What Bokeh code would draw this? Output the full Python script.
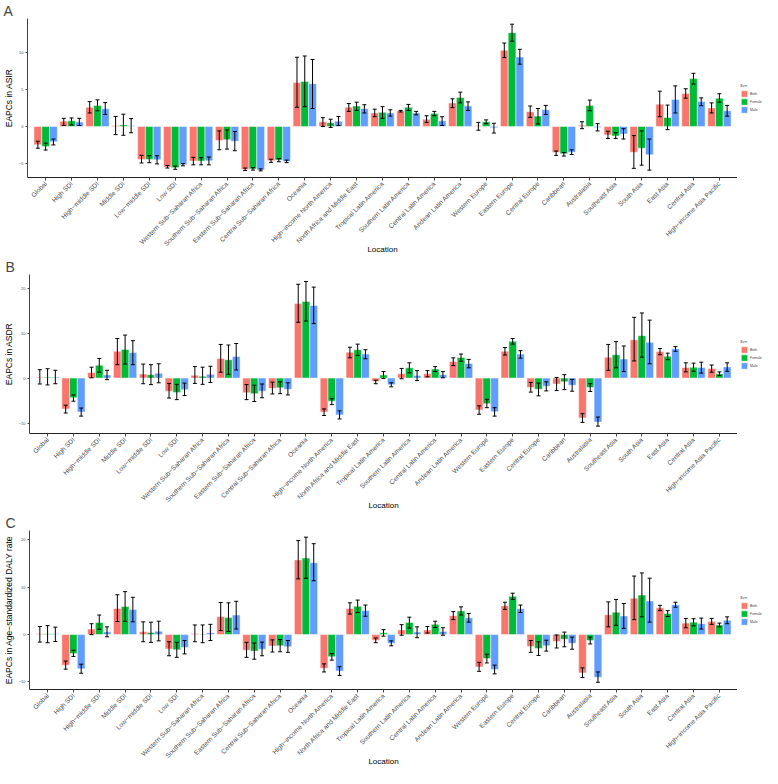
from math import pi
from bokeh.plotting import figure
from bokeh.models import (ColumnDataSource, FactorRange, Range1d, FixedTicker, Whisker, TeeHead,
                          Legend, LegendItem)
from bokeh.transform import dodge
from bokeh.layouts import column, row
from bokeh.embed import file_html
from bokeh.resources import INLINE

locations = ["Global", "High SDI", "High\u2212middle SDI", "Middle SDI", "Low\u2212middle SDI", "Low SDI",
             "Western Sub\u2212Saharan Africa", "Southern Sub\u2212Saharan Africa", "Eastern Sub\u2212Saharan Africa",
             "Central Sub\u2212Saharan Africa", "Oceania", "High\u2212income North America",
             "North Africa and Middle East", "Tropical Latin America", "Southern Latin America",
             "Central Latin America", "Andean Latin America", "Western Europe", "Eastern Europe",
             "Central Europe", "Caribbean", "Australasia", "Southeast Asia", "South Asia", "East Asia",
             "Central Asia", "High\u2212income Asia Pacific"]
sexes = ["Both", "Female", "Male"]
sex_colors = ["#F8766D", "#00BA38", "#619CFF"]

# ---- Panel A: EAPCs in ASIR ----
asir_both = [-2.47, 0.72, 2.60, 0.13, -4.47, -5.49, -4.68, -1.91, -5.83, -4.64, 5.96, 0.64, 2.60, 1.83, 2.09, 0.98, 3.19, 0.09, 10.30, 2.00, -3.53, 0.17, -1.15, -3.49, 3.02, 4.47, 2.51]
asir_both_lo = [-2.94, 0.13, 1.83, -1.10, -4.94, -5.62, -5.19, -3.15, -5.96, -4.85, 2.60, 0.00, 2.04, 1.32, 1.96, 0.55, 2.55, -0.51, 9.32, 1.23, -3.91, -0.30, -1.62, -5.66, 1.32, 3.83, 1.83]
asir_both_hi = [-2.00, 1.10, 3.36, 1.36, -3.90, -5.28, -4.17, -0.60, -5.62, -4.43, 9.36, 1.19, 3.10, 2.34, 2.17, 1.45, 3.74, 0.55, 11.28, 2.77, -3.32, 0.64, -0.64, -1.23, 4.77, 5.10, 3.19]
asir_female = [-2.72, 0.77, 2.85, 0.21, -4.47, -5.57, -4.68, -1.79, -5.74, -4.55, 6.09, 0.51, 2.77, 1.91, 2.60, 1.74, 3.91, 0.64, 12.68, 1.40, -3.70, 2.85, -1.28, -2.94, 1.23, 6.47, 3.83]
asir_female_lo = [-3.19, 0.20, 2.13, -1.19, -4.90, -5.79, -5.19, -3.06, -5.90, -4.77, 2.68, -0.13, 2.17, 1.10, 2.17, 1.45, 3.19, 0.38, 11.53, 0.34, -4.00, 2.13, -1.62, -5.23, -0.43, 5.74, 3.28]
asir_female_hi = [-2.26, 1.15, 3.60, 1.66, -3.96, -5.36, -4.21, -0.47, -5.57, -4.34, 9.53, 0.98, 3.28, 2.68, 2.98, 2.04, 4.64, 0.89, 13.83, 2.43, -3.53, 3.57, -0.85, -0.60, 2.89, 7.19, 4.43]
asir_male = [-2.08, 0.60, 2.38, 0.09, -4.51, -5.19, -4.64, -2.00, -5.87, -4.72, 5.79, 0.72, 2.43, 1.83, 1.83, 0.77, 2.77, -0.17, 9.40, 2.26, -3.49, -0.13, -1.02, -3.83, 3.66, 3.36, 2.13]
asir_male_lo = [-2.50, 0.13, 1.62, -0.85, -5.06, -5.32, -5.19, -3.28, -6.00, -4.89, 2.43, 0.13, 1.83, 1.40, 1.57, 0.13, 2.17, -0.89, 8.43, 1.62, -3.79, -0.60, -1.70, -5.91, 1.83, 2.81, 1.40]
asir_male_hi = [-1.70, 1.10, 3.23, 1.06, -3.96, -5.02, -4.13, -0.68, -5.74, -4.55, 9.06, 1.36, 2.94, 2.26, 2.04, 1.32, 3.32, 0.43, 10.43, 2.85, -3.15, 0.38, -0.30, -1.70, 5.49, 3.87, 2.85]

# ---- Panel B: EAPCs in ASDR ----
asdr_both = [0.20, -6.85, 1.25, 5.95, 0.90, -2.91, 0.62, 4.36, -3.25, -2.28, 16.54, -7.54, 5.74, -0.69, 0.97, 0.97, 3.67, -7.06, 5.95, -2.08, -1.31, -8.86, 4.64, 8.51, 5.88, 2.35, 2.15]
asdr_both_lo = [-1.31, -7.75, 0.07, 2.98, -1.25, -4.43, -1.18, 1.31, -4.78, -3.53, 12.39, -8.30, 4.50, -1.25, -0.14, 0.28, 2.77, -8.03, 5.12, -3.11, -2.77, -9.83, 1.73, 3.81, 5.19, 1.38, 1.31]
asdr_both_hi = [1.87, -6.02, 2.42, 8.79, 3.11, -1.18, 2.56, 7.47, -1.45, -0.90, 20.83, -6.85, 6.85, -0.48, 2.15, 1.66, 4.50, -6.16, 6.78, -0.97, 0.14, -7.89, 7.47, 13.49, 6.57, 3.39, 2.91]
asdr_female = [0.20, -4.36, 2.84, 6.37, 0.76, -3.18, 0.42, 4.08, -3.46, -2.15, 17.02, -5.12, 6.30, 0.69, 2.28, 2.00, 4.57, -5.67, 8.17, -2.49, -0.83, -2.08, 5.19, 9.41, 4.84, 2.42, 0.97]
asdr_female_lo = [-1.52, -5.12, 1.31, 3.11, -1.45, -4.78, -1.38, 0.83, -5.19, -3.46, 12.66, -5.88, 5.05, -0.07, 1.18, 1.45, 3.74, -6.57, 7.54, -3.94, -2.56, -2.98, 2.28, 4.64, 4.08, 1.52, 0.55]
asdr_female_hi = [2.08, -3.74, 4.36, 9.55, 2.98, -1.38, 2.42, 7.34, -1.59, -0.83, 21.45, -4.57, 7.54, 1.45, 3.39, 2.56, 5.33, -4.71, 8.79, -1.11, 0.76, -1.25, 8.10, 14.46, 5.54, 3.32, 1.38]
asdr_male = [0.20, -7.54, 0.69, 5.67, 1.10, -2.56, 0.83, 4.78, -2.91, -2.49, 16.12, -8.17, 5.33, -1.45, 0.55, 0.76, 3.25, -7.47, 5.33, -1.80, -1.59, -9.76, 4.22, 7.96, 6.51, 2.35, 2.49]
asdr_male_lo = [-1.25, -8.44, -0.35, 2.98, -1.04, -3.88, -0.97, 1.80, -4.36, -3.74, 12.10, -9.07, 4.29, -1.94, -0.55, 0.07, 2.28, -8.44, 4.43, -2.84, -2.91, -10.66, 1.45, 3.18, 5.95, 1.11, 1.52]
asdr_male_hi = [1.73, -6.64, 1.73, 8.30, 3.18, -1.11, 2.63, 7.68, -1.31, -1.04, 20.20, -7.27, 6.30, -1.04, 1.66, 1.45, 4.15, -6.57, 6.09, -0.83, -0.28, -8.65, 7.13, 12.87, 6.99, 3.53, 3.39]

# ---- Panel C: EAPCs in age-standardized DALY rate ----
daly_both = [0.20, -6.45, 1.18, 5.53, 0.59, -3.03, 0.26, 3.82, -3.29, -2.43, 15.79, -7.11, 5.53, -1.18, 0.99, 0.99, 4.01, -6.84, 6.12, -2.50, -1.45, -8.09, 4.21, 7.70, 5.66, 2.43, 2.76]
daly_both_lo = [-1.58, -7.30, 0.00, 2.76, -1.51, -4.47, -1.51, 0.86, -4.80, -3.68, 11.78, -7.89, 4.34, -1.71, -0.13, 0.33, 3.16, -7.76, 5.33, -3.75, -2.83, -9.08, 1.64, 3.16, 5.07, 1.45, 2.17]
daly_both_hi = [1.71, -5.59, 2.30, 8.42, 2.70, -1.51, 2.04, 6.78, -1.64, -1.12, 19.87, -6.18, 6.71, -0.72, 2.10, 1.71, 4.87, -5.86, 6.84, -1.25, -0.07, -7.04, 6.91, 12.37, 6.18, 3.42, 3.42]
daly_female = [0.20, -4.01, 2.57, 5.92, 0.46, -3.22, 0.13, 3.62, -3.49, -2.37, 16.18, -4.67, 5.99, 0.39, 2.57, 2.17, 5.00, -5.07, 8.09, -2.96, -0.99, -1.25, 4.74, 8.36, 4.47, 2.63, 2.04]
daly_female_lo = [-1.71, -4.61, 1.12, 2.83, -1.64, -4.80, -1.71, 0.66, -5.20, -3.62, 11.91, -5.39, 4.67, -0.33, 1.38, 1.51, 4.14, -5.99, 7.43, -4.41, -2.57, -1.97, 1.97, 3.75, 3.82, 1.84, 1.64]
daly_female_hi = [1.91, -3.29, 4.14, 9.08, 2.63, -1.64, 2.04, 6.71, -1.78, -1.05, 20.59, -4.01, 7.30, 1.05, 3.68, 2.83, 5.86, -4.14, 8.75, -1.51, 0.53, -0.53, 7.43, 13.03, 5.07, 3.36, 2.43]
daly_male = [0.20, -7.24, 0.59, 5.33, 0.72, -2.70, 0.39, 4.14, -3.09, -2.57, 15.20, -7.70, 5.07, -1.84, 0.53, 0.66, 3.55, -7.37, 5.46, -2.37, -1.84, -9.01, 3.95, 7.11, 6.32, 2.30, 3.03]
daly_male_lo = [-1.45, -8.16, -0.46, 2.70, -1.32, -4.08, -1.25, 1.18, -4.47, -3.75, 11.38, -8.62, 3.88, -2.37, -0.66, -0.13, 2.63, -8.29, 4.67, -3.49, -3.09, -10.07, 1.32, 2.63, 5.79, 1.18, 2.30]
daly_male_hi = [1.58, -6.25, 1.64, 7.89, 2.83, -1.25, 2.17, 7.04, -1.58, -1.25, 19.21, -6.78, 6.25, -1.32, 1.64, 1.45, 4.47, -6.45, 6.25, -1.18, -0.53, -7.89, 6.58, 11.91, 6.84, 3.49, 3.75]

panel_letters = ["A", "B", "C"]
y_titles = ["EAPCs in ASIR", "EAPCs in ASDR", "EAPCs in Age\u2212standardized DALY rate"]
y_ticks = [[-5, 0, 5, 10], [-10, 0, 10, 20], [-10, 0, 10, 20]]
y_limits = [(-6.9, 14.6), (-12.3, 23.0), (-11.6, 22.0)]
x_title = "Location"
legend_title = "Sex"

FONT = "Liberation Sans"
MAIN_W, LEG_W, FIG_H = 737, 25, 256
TITLE_H, AXIS_H = 12, 78


def make_panel(letter, ytitle, ticks, ylim, series):
    data = {"loc": locations}
    for sex, (v, lo, hi) in zip(sexes, series):
        data[sex] = v
        data[sex + "_lo"] = lo
        data[sex + "_hi"] = hi
    src = ColumnDataSource(data)

    p = figure(x_range=FactorRange(*locations, range_padding=0.2, range_padding_units="absolute"),
               y_range=Range1d(*ylim), width=MAIN_W, height=FIG_H,
               output_backend="svg", toolbar_location=None,
               min_border_left=0, min_border_right=0, min_border_top=0, min_border_bottom=0)
    p.outline_line_color = None
    p.xgrid.visible = False
    p.ygrid.visible = False

    # panel letter as the title
    p.title.text = letter
    p.title.align = "left"
    p.title.offset = -24
    p.title.standoff = 0
    p.title.text_font = FONT
    p.title.text_font_size = "14px"
    p.title.text_font_style = "normal"

    for off, sex, col in zip([-0.3, 0.0, 0.3], sexes, sex_colors):
        p.vbar(x=dodge("loc", off, range=p.x_range), top=sex, bottom=0, width=0.3,
               source=src, fill_color=col, line_color="white", line_width=0.5)
        w = Whisker(source=src, base=dodge("loc", off, range=p.x_range), upper=sex + "_hi", lower=sex + "_lo",
                    line_color="black", line_width=1, level="annotation",
                    upper_head=TeeHead(size=4, line_color="black", line_width=1),
                    lower_head=TeeHead(size=4, line_color="black", line_width=1))
        p.add_layout(w)

    # y axis
    p.yaxis.ticker = FixedTicker(ticks=ticks)
    p.yaxis.minor_tick_line_color = None
    p.yaxis.axis_line_color = "#444444"
    p.yaxis.major_tick_line_color = "#444444"
    p.yaxis.major_tick_in = 0
    p.yaxis.major_tick_out = 2
    p.yaxis.major_label_text_font_size = "4px"
    p.yaxis.major_label_text_color = "#4d4d4d"
    p.yaxis.major_label_text_font = FONT
    p.yaxis.major_label_standoff = 2
    p.yaxis.axis_label = ytitle
    p.yaxis.axis_label_text_font = FONT
    p.yaxis.axis_label_text_font_size = "8.5px"
    p.yaxis.axis_label_text_font_style = "normal"
    p.yaxis.axis_label_text_color = "black"
    p.yaxis.axis_label_standoff = 2

    # x axis with rotated category labels
    p.xaxis.axis_line_color = "#222222"
    p.xaxis.major_tick_line_color = "#444444"
    p.xaxis.major_tick_in = 0
    p.xaxis.major_tick_out = 3
    p.xaxis.major_label_orientation = pi / 4
    p.xaxis.major_label_text_font = FONT
    p.xaxis.major_label_text_font_size = "6.6px"
    p.xaxis.major_label_text_color = "#4d4d4d"
    p.xaxis.major_label_standoff = 2
    p.xaxis.axis_label = x_title
    p.xaxis.axis_label_text_font = FONT
    p.xaxis.axis_label_text_font_size = "8px"
    p.xaxis.axis_label_text_font_style = "normal"
    p.xaxis.axis_label_text_color = "black"
    p.xaxis.axis_label_standoff = -8

    # legend in a narrow companion figure to the right of the plot area
    q = figure(width=LEG_W, height=FIG_H, x_range=Range1d(0, 1), y_range=Range1d(0, 1),
               output_backend="svg", toolbar_location=None,
               min_border_left=0, min_border_right=0, min_border_top=TITLE_H, min_border_bottom=AXIS_H)
    q.axis.visible = False
    q.grid.visible = False
    q.outline_line_color = None
    items = []
    for sex, col in zip(sexes, sex_colors):
        # zero-height key glyph: only its colours are used, by the legend
        r = q.vbar(x=[0], top=[0], bottom=[0], width=0, fill_color=col, line_color="white", line_width=0.5)
        items.append(LegendItem(label=sex, renderers=[r]))
    legend = Legend(items=items, title=legend_title, location="center_left",
                    title_text_font_size="4px", title_text_font=FONT, title_standoff=2,
                    label_text_font_size="3.5px", label_text_font=FONT, label_standoff=2,
                    glyph_width=8, glyph_height=8, label_height=8, label_width=10, spacing=0,
                    padding=2, margin=3, border_line_color=None, background_fill_alpha=0)
    q.add_layout(legend)
    return row(p, q, spacing=0)


all_series = [
    [(asir_both, asir_both_lo, asir_both_hi), (asir_female, asir_female_lo, asir_female_hi), (asir_male, asir_male_lo, asir_male_hi)],
    [(asdr_both, asdr_both_lo, asdr_both_hi), (asdr_female, asdr_female_lo, asdr_female_hi), (asdr_male, asdr_male_lo, asdr_male_hi)],
    [(daly_both, daly_both_lo, daly_both_hi), (daly_female, daly_female_lo, daly_female_hi), (daly_male, daly_male_lo, daly_male_hi)],
]
panels = [make_panel(panel_letters[i], y_titles[i], y_ticks[i], y_limits[i], all_series[i]) for i in range(3)]

layout = column(*panels, spacing=0)
open("out.html", "w").write(file_html(layout, INLINE))
